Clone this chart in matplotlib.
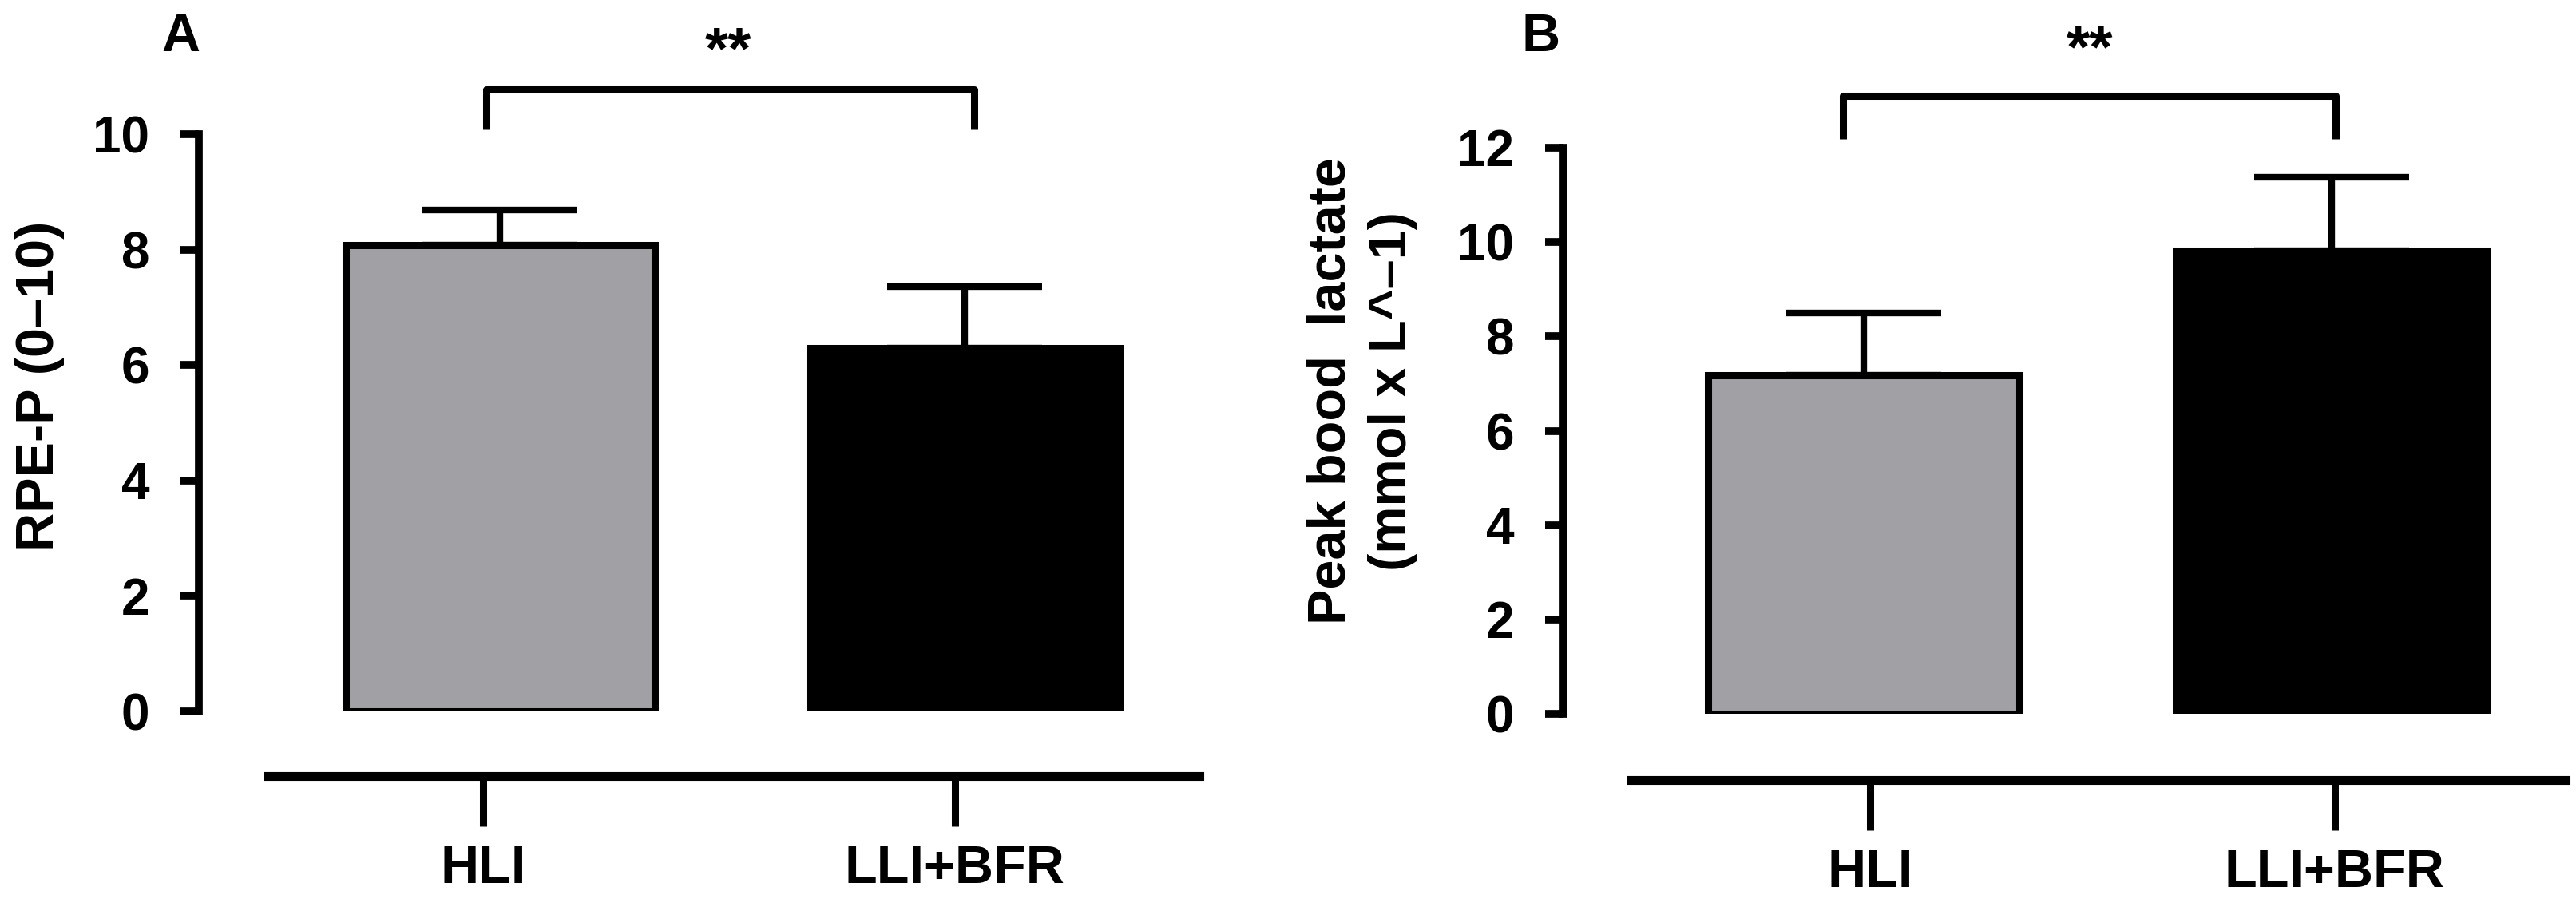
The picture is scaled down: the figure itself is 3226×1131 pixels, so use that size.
"""Two-panel bar chart: RPE-P and peak blood lactate, HLI vs LLI+BFR."""

import matplotlib

matplotlib.use("Agg")
import matplotlib.pyplot as plt

groups = ["HLI", "LLI+BFR"]

rpe_mean = [8.08, 6.29]
rpe_sd = [0.61, 1.07]

lactate_mean = [7.17, 9.82]
lactate_sd = [1.33, 1.55]

bar_colors = ["#a1a1a5", "#000000"]

W, H, DPI = 3226, 1131, 100
plt.rcParams["font.family"] = ["Liberation Sans", "DejaVu Sans"]
plt.rcParams["font.weight"] = "bold"

fig = plt.figure(figsize=(W / DPI, H / DPI), dpi=DPI)


def rect(left, right, top, bottom):
    return [left / W, 1 - bottom / H, (right - left) / W, (bottom - top) / H]


def bar_panel(r, means, sds, ymax, xlim, bracket):
    ax = fig.add_axes(r)
    x = list(range(len(means)))
    ax.bar(x, means, width=0.665, color=bar_colors, edgecolor="black",
           linewidth=6.5, zorder=2)
    ax.errorbar(x, means, yerr=[[0] * len(sds), sds], fmt="none",
                ecolor="black", elinewidth=6, capsize=70, capthick=6, zorder=1)
    ax.set_xlim(*xlim)
    ax.set_ylim(0, ymax)
    ax.set_yticks(range(0, ymax + 1, 2))
    for s in ("top", "right", "bottom"):
        ax.spines[s].set_visible(False)
    ax.spines["left"].set_linewidth(7)
    ax.spines["left"].set_bounds(0, ymax)
    ax.set_xticks([])
    ax.tick_params(axis="y", length=16.5, width=7, pad=28, labelsize=46)
    x0, x1, yb, yt = bracket
    ax.plot([x0, x0, x1, x1], [yb, yt, yt, yb], color="black", lw=6.5,
            clip_on=False, solid_capstyle="butt")
    return ax


def group_axis(left, right, y, xlim):
    ax = fig.add_axes([left / W, 1 - y / H, (right - left) / W, 0.0005])
    ax.patch.set_visible(False)
    for s in ("top", "right", "left"):
        ax.spines[s].set_visible(False)
    ax.spines["bottom"].set_linewidth(8)
    ax.set_xlim(*xlim)
    ax.set_yticks([])
    ax.set_xticks(range(len(groups)))
    ax.set_xticklabels(groups)
    ax.tick_params(axis="x", length=45, width=6.5, pad=17, labelsize=48)
    return ax


# panel A
bar_panel(rect(249, 1502, 168, 891), rpe_mean, rpe_sd, 10,
          (-0.648, 1.505), (-0.03, 1.02, 10.08, 10.77))
group_axis(336, 1502, 972, (-0.455, 1.518))
fig.text(50 / W, 1 - 483 / H, "RPE-P (0–10)", rotation=90, ha="center",
         va="center", fontsize=48, fontweight="bold")
fig.text(226 / W, 1 - 47 / H, "A", ha="center", va="center", fontsize=48,
         fontweight="bold")
fig.text(912 / W, 1 - 66 / H, "**", ha="center", va="center", fontsize=54,
         fontweight="bold")

# panel B
bar_panel(rect(1958, 3213, 185, 894), lactate_mean, lactate_sd, 12,
          (-0.642, 1.5), (-0.044, 1.009, 12.18, 13.1))
group_axis(2043, 3213, 977, (-0.514, 1.497))
fig.text(1706 / W, 1 - 490 / H, "Peak bood  lactate\n(mmol x L^–1)",
         rotation=90, ha="center", va="center", multialignment="center",
         linespacing=1.3, fontsize=48, fontweight="bold")
fig.text(1930 / W, 1 - 47 / H, "B", ha="center", va="center", fontsize=48,
         fontweight="bold")
fig.text(2617 / W, 1 - 64 / H, "**", ha="center", va="center", fontsize=54,
         fontweight="bold")

fig.savefig("out.png", dpi=DPI)
plt.close(fig)
